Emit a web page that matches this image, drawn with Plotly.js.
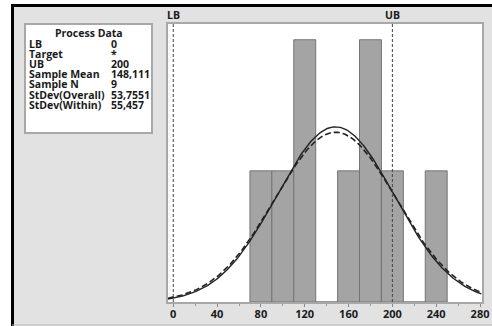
<!DOCTYPE html>
<html><head><meta charset="utf-8">
<script src="https://cdn.plot.ly/plotly-3.0.1.min.js"></script>
<style>html,body{margin:0;padding:0;background:#fff;}#chart{width:492px;height:326px;}</style>
</head><body><div id="chart"></div>
<script>
// Histogram bins (centers) and counts
const binCenters = [80, 100, 120, 140, 160, 180, 200, 220, 240];
const binCounts  = [1, 1, 2, 0, 1, 2, 1, 0, 1];
const binWidth = 20;
// Process data
const processLabels = ["LB", "Target", "UB", "Sample Mean", "Sample N", "StDev(Overall)", "StDev(Within)"];
const processValues = ["0", "*", "200", "148,111", "9", "53,7551", "55,457"];
const LB = 0, UB = 200;
const sampleMean = 148.111, sampleN = 9, sdOverall = 53.7551, sdWithin = 55.457;
const xTicks = [0, 40, 80, 120, 160, 200, 240, 280];

const W = 492, H = 326, ML = 168, MR = 10, MT = 24, MB = 24;
const PW = W - ML - MR, PH = H - MT - MB;
const px = p => (p - ML) / PW;
const py = p => (H - MB - p) / PH;

function normalCurve(sd) {
  const xs = [], ys = [];
  for (let x = -4.8; x <= 281.8; x += 1) {
    xs.push(x);
    ys.push(sampleN * binWidth / (sd * Math.sqrt(2 * Math.PI)) * Math.exp(-0.5 * Math.pow((x - sampleMean) / sd, 2)));
  }
  return {xs, ys};
}
const cO = normalCurve(sdOverall), cW = normalCurve(sdWithin);

const traces = [
  {type: 'bar', x: binCenters, y: binCounts, width: binWidth,
   marker: {color: '#a4a4a4', line: {color: '#747474', width: 1}}, hoverinfo: 'skip'},
  {type: 'scatter', mode: 'lines', x: cW.xs, y: cW.ys,
   line: {color: '#222', width: 1.6, dash: '6px,3px'}, hoverinfo: 'skip'},
  {type: 'scatter', mode: 'lines', x: cO.xs, y: cO.ys,
   line: {color: '#222', width: 1.4}, hoverinfo: 'skip'}
];

const shapes = [
  {type: 'rect', xref: 'paper', yref: 'paper', x0: px(0), x1: px(11), y0: py(H), y1: py(0), fillcolor: '#ffffff', line: {width: 0}, layer: 'below'},
  {type: 'rect', xref: 'paper', yref: 'paper', x0: px(0), x1: px(W), y0: py(4), y1: py(0), fillcolor: '#ffffff', line: {width: 0}, layer: 'below'},
  {type: 'line', xref: 'paper', yref: 'paper', x0: px(12), x1: px(W), y0: py(5.5), y1: py(5.5), line: {color: '#000', width: 3}},
  {type: 'line', xref: 'paper', yref: 'paper', x0: px(12.5), x1: px(12.5), y0: py(4), y1: py(H), line: {color: '#000', width: 3}},
  {type: 'line', xref: 'paper', yref: 'paper', x0: px(12), x1: px(W), y0: py(325), y1: py(325), line: {color: '#b8b8b8', width: 1}},
  {type: 'rect', xref: 'paper', yref: 'paper', x0: px(25), x1: px(152), y0: py(133), y1: py(24), fillcolor: '#ffffff', line: {color: '#a8a8a8', width: 2}},
  {type: 'line', xref: 'x', yref: 'paper', x0: LB, x1: LB, y0: 0, y1: 1, line: {color: '#444', width: 1, dash: '3px,2px'}},
  {type: 'line', xref: 'x', yref: 'paper', x0: UB, x1: UB, y0: 0, y1: 1, line: {color: '#444', width: 1, dash: '3px,2px'}}
];

const fam = 'Open Sans, Noto Sans, sans-serif';
const font = {family: fam, size: 10.5, color: '#1a1a1a', weight: 'bold'};
// Small base font so that line spacing (1.3em) is ~10.1px; glyphs enlarged by span style
const rowSpacing = 10.1;
const baseSize = rowSpacing / 1.3;
const blockFont = {family: fam, size: baseSize, color: '#1a1a1a', weight: 'bold'};
const wrap = s => '<span style="font-size:10.5px">' + s + '</span>';
const firstRow = 44.5;
const blockMid = firstRow + (processLabels.length - 1) * rowSpacing / 2;

const annotations = [
  {xref: 'x', yref: 'paper', x: LB, y: 1, yanchor: 'bottom', yshift: 0, text: 'LB', showarrow: false, font: font},
  {xref: 'x', yref: 'paper', x: UB, y: 1, yanchor: 'bottom', yshift: 0, text: 'UB', showarrow: false, font: font},
  {xref: 'paper', yref: 'paper', x: px(89), y: py(32.5), xanchor: 'center', yanchor: 'middle', text: 'Process Data', showarrow: false, font: font, borderpad: 0},
  {xref: 'paper', yref: 'paper', x: px(28), y: py(blockMid), xanchor: 'left', yanchor: 'middle', align: 'left',
   text: processLabels.map(wrap).join('<br>'), showarrow: false, font: blockFont, borderpad: 0},
  {xref: 'paper', yref: 'paper', x: px(110), y: py(blockMid), xanchor: 'left', yanchor: 'middle', align: 'left',
   text: processValues.map(wrap).join('<br>'), showarrow: false, font: blockFont, borderpad: 0}
];

const layout = {
  width: W, height: H,
  margin: {l: ML, r: MR, t: MT, b: MB, pad: 0},
  paper_bgcolor: '#e2e2e2', plot_bgcolor: '#ffffff',
  showlegend: false, bargap: 0,
  xaxis: {range: [-4.8, 281.8], tickvals: xTicks, ticktext: xTicks.map(String),
          showgrid: false, zeroline: false, showline: true, mirror: true, linecolor: '#a8a8a8', linewidth: 2,
          ticks: 'outside', ticklen: 3, tickcolor: '#888', tickwidth: 1, ticklabelstandoff: -2,
          minor: {dtick: 20, tick0: 0, ticks: 'outside', ticklen: 2, tickcolor: '#999'},
          tickfont: {family: fam, size: 11, color: '#1a1a1a', weight: 'bold'}, fixedrange: true},
  yaxis: {range: [0, 2.12], showgrid: false, zeroline: false, showticklabels: false, ticks: '',
          showline: true, mirror: true, linecolor: '#a8a8a8', linewidth: 2, fixedrange: true},
  shapes: shapes, annotations: annotations
};
Plotly.newPlot('chart', traces, layout, {displayModeBar: false, staticPlot: true});
</script>
</body></html>
